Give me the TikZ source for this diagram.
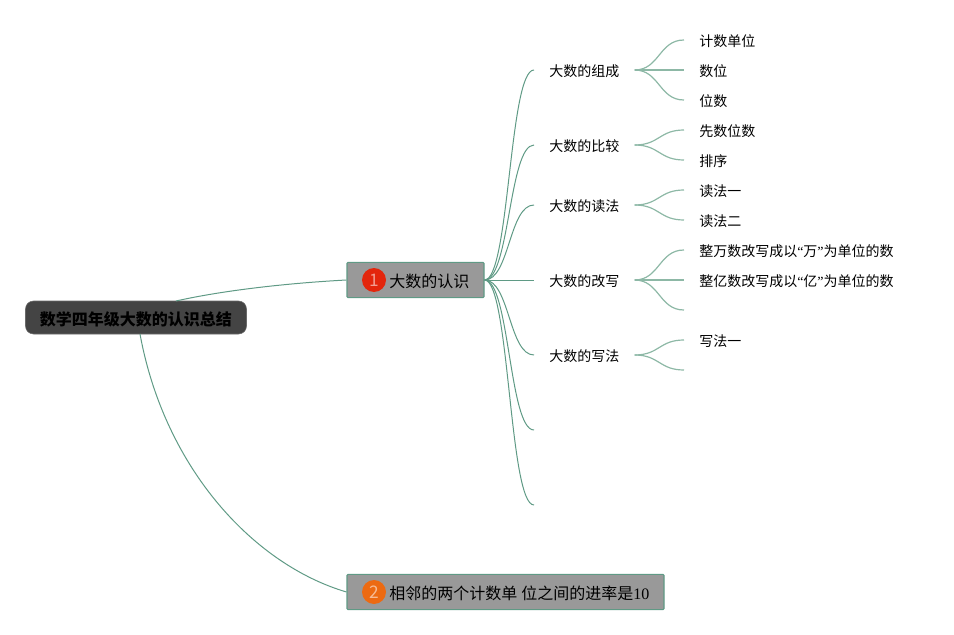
\documentclass[tikz,border=0pt]{standalone}
\usepackage{fontspec}
\setmainfont{Noto Sans CJK SC}
\newfontfamily\latinserif{Liberation Serif}
\usetikzlibrary{calc}
\definecolor{linkgreen}{HTML}{5F9A85}
\definecolor{leafgreen}{HTML}{8DB8A6}
\definecolor{boxgray}{HTML}{999999}
\definecolor{rootgray}{HTML}{444444}
\definecolor{dotred}{HTML}{E3260C}
\definecolor{dotorange}{HTML}{EC6A12}
\tikzset{
  rootbox/.style={draw=rootgray!80!white, fill=rootgray, rounded corners=6pt, minimum width=165.75pt, minimum height=24.75pt, inner sep=0, text height=11.4pt, text depth=0pt, font=\fontsize{12}{14}\selectfont\bfseries},
  mainbox/.style={draw=linkgreen, line width=0.8pt, fill=boxgray, rounded corners=0.8pt, minimum height=26.5pt, inner sep=0},
  numdot/.style={circle, minimum size=18pt, inner sep=0, text=white, text opacity=0.55, font=\fontsize{13}{14}\selectfont},
  maintext/.style={anchor=west, inner sep=0, yshift=-0.75pt, font=\fontsize{12}{14}\selectfont},
  subtext/.style={anchor=west, inner xsep=11.25pt, inner ysep=0, text height=9.8pt, text depth=0.5pt, font=\fontsize{10.5}{12}\selectfont},
  mainlink/.style={linkgreen, line width=0.75pt},
  sublink/.style={linkgreen, line width=0.75pt},
  leaflink/.style={leafgreen, line width=0.9pt},
}
\newcommand{\openq}{{\latinserif “}}
\newcommand{\closeq}{{\latinserif ”}}
\begin{document}
\begin{tikzpicture}[x=0.75pt, y=-0.75pt]
\useasboundingbox (0,0) rectangle (954,635);
\node[rootbox] (root) at (136,317.5) {数学四年级大数的认识总结};
\node[mainbox, minimum width=102.75pt] (topic1) at (415.5,280) {};
\node[mainbox, minimum width=237.75pt] (topic2) at (505.5,592) {};
\node[numdot, fill=dotred] (dot1) at (374,280) {1};
\node[numdot, fill=dotorange] (dot2) at (374,592) {2};
\node[maintext] (text1) at (389,280) {大数的认识};
\node[maintext] (text2) at (389,592) {相邻的两个计数单{\latinserif\ }位之间的进率是{\latinserif 10}};
\coordinate (start1) at (176,301);
\coordinate (start2) at (140,334);
\draw[mainlink] (start1) .. controls (225,290) and (290,283) .. (topic1.west);
\draw[mainlink] (start2) .. controls (165,470) and (255,565) .. (topic2.west);
% second level
\foreach \name/\y/\txt in {compose/70/大数的组成, compare/145/大数的比较, read/205/大数的读法, rewrite/280/大数的改写, write/355/大数的写法} {
 \node[subtext] (\name) at (534,\y) {\txt};
 \draw[sublink] (topic1.east) .. controls +(25,0) and +(-25,0) .. (\name.west);
}
\coordinate (free1) at (534,430);
\coordinate (free2) at (534,505);
\foreach \name in {free1,free2}
 \draw[sublink] (topic1.east) .. controls +(25,0) and +(-25,0) .. (\name);
% third level
\foreach \name/\from/\y/\txt in {unit/compose/40/计数单位, digit/compose/70/数位, place/compose/100/位数,
  first/compare/130/先数位数, sort/compare/160/排序,
  readone/read/190/读法一, readtwo/read/220/读法二,
  wan/rewrite/250/整万数改写成以\openq 万\closeq 为单位的数, yi/rewrite/280/整亿数改写成以\openq 亿\closeq 为单位的数,
  writeone/write/340/写法一} {
 \node[subtext] (\name) at (684,\y) {\txt};
 \draw[leaflink] (\from.east) .. controls +(25,0) and +(-25,0) .. (\name.west);
}
\coordinate (free3) at (684,310);
\coordinate (free4) at (684,370);
\draw[leaflink] (rewrite.east) .. controls +(25,0) and +(-25,0) .. (free3);
\draw[leaflink] (write.east) .. controls +(25,0) and +(-25,0) .. (free4);
\end{tikzpicture}
\end{document}
